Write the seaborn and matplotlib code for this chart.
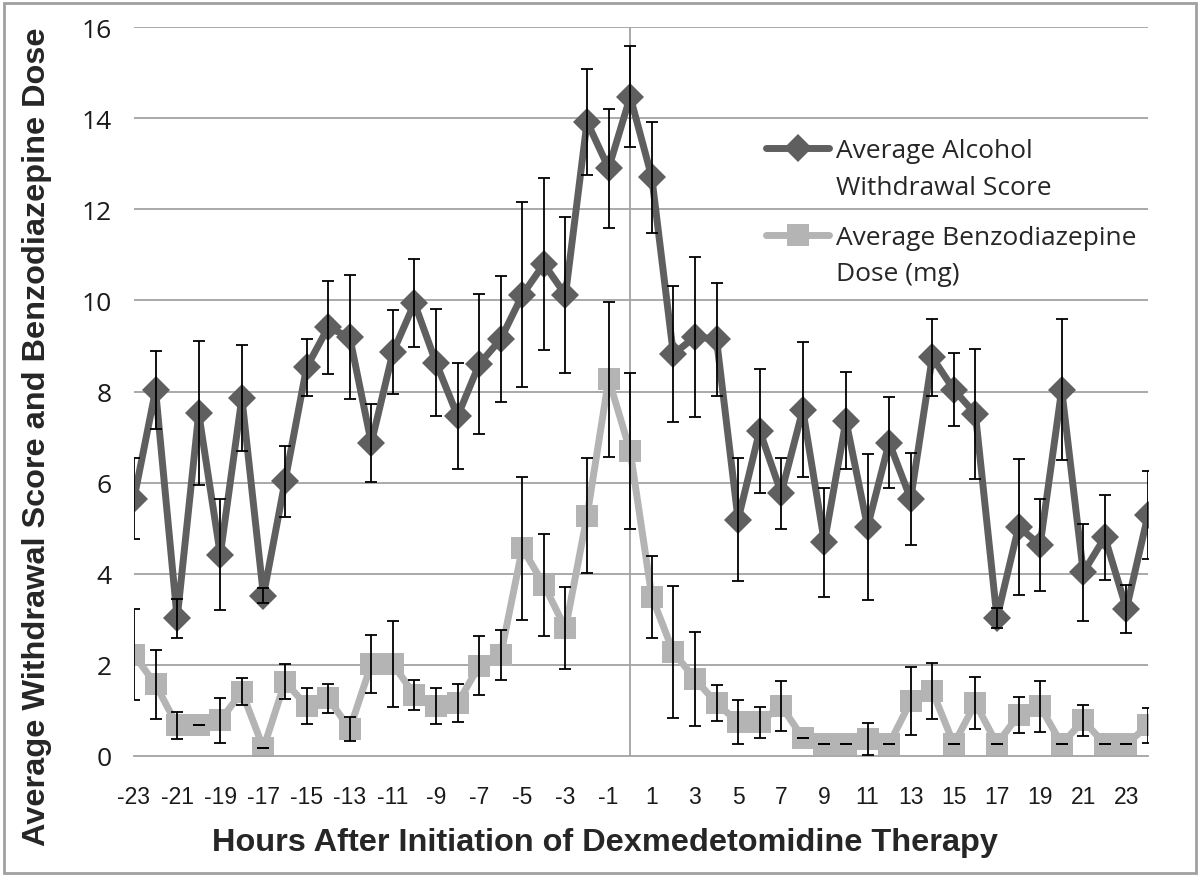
"""
Alcohol withdrawal score and benzodiazepine dose around dexmedetomidine start
"""

import matplotlib.pyplot as plt
import matplotlib.patches as patches
from matplotlib.legend_handler import HandlerLine2D
import seaborn as sns
import pandas as pd

# hours relative to start of dexmedetomidine
hours = list(range(-23, 25))

# average alcohol withdrawal score and its error (half-width)
aws_mean = [5.65, 8.03, 3.02, 7.52, 4.42, 7.86, 3.52, 6.03, 8.53, 9.41, 9.19, 6.87,
            8.86, 9.94, 8.63, 7.46, 8.60, 9.15, 10.12, 10.80, 10.12, 13.92, 12.90, 14.47,
            12.70, 8.82, 9.20, 9.15, 5.19, 7.14, 5.77, 7.60, 4.69, 7.36, 5.03, 6.88,
            5.64, 8.75, 8.04, 7.51, 3.03, 5.03, 4.63, 8.04, 4.03, 4.80, 3.23, 5.29]
aws_err = [0.88, 0.85, 0.42, 1.58, 1.21, 1.16, 0.16, 0.78, 0.62, 1.02, 1.36, 0.86,
           0.92, 0.97, 1.17, 1.16, 1.53, 1.38, 2.03, 1.89, 1.72, 1.16, 1.31, 1.11,
           1.22, 1.50, 1.75, 1.24, 1.35, 1.36, 0.78, 1.48, 1.20, 1.06, 1.60, 1.00,
           1.00, 0.85, 0.80, 1.42, 0.22, 1.49, 1.01, 1.55, 1.07, 0.93, 0.53, 0.97]

# average benzodiazepine dose (mg) and its error (half-width)
bzd_mean = [2.22, 1.57, 0.67, 0.67, 0.78, 1.41, 0.17, 1.63, 1.10, 1.27, 0.59, 2.02,
            2.02, 1.34, 1.10, 1.16, 1.98, 2.22, 4.56, 3.76, 2.80, 5.27, 8.27, 6.69,
            3.50, 2.28, 1.69, 1.16, 0.74, 0.74, 1.10, 0.40, 0.26, 0.26, 0.37, 0.26,
            1.20, 1.43, 0.26, 1.16, 0.26, 0.90, 1.09, 0.26, 0.78, 0.26, 0.26, 0.67]
bzd_err = [1.00, 0.76, 0.30, 0.00, 0.49, 0.30, 0.00, 0.38, 0.40, 0.32, 0.26, 0.64,
           0.94, 0.33, 0.39, 0.42, 0.65, 0.55, 1.57, 1.12, 0.90, 1.26, 1.70, 1.71,
           0.90, 1.45, 1.03, 0.39, 0.48, 0.34, 0.55, 0.00, 0.00, 0.00, 0.35, 0.00,
           0.75, 0.61, 0.00, 0.57, 0.00, 0.40, 0.56, 0.00, 0.34, 0.00, 0.00, 0.38]

label_aws = "Average Alcohol\nWithdrawal Score"
label_bzd = "Average Benzodiazepine\nDose (mg)"

df = pd.DataFrame({"hour": hours, "aws": aws_mean, "bzd": bzd_mean})

sns.set_style("white")
plt.rcParams['font.family'] = ['Open Sans', 'DejaVu Sans']

dark = "#5f5f5f"
light = "#b4b4b4"
grid = "#a3a3a3"
narrow = ['Liberation Sans', 'DejaVu Sans']

LEG_FS = 19
LEG_LS = 1.6


class TopLineHandler(HandlerLine2D):
    """ puts the legend sample next to the first text line, like Excel does """
    def create_artists(self, legend, orig_handle, xdescent, ydescent, width, height,
                       fontsize, trans):
        artists = super().create_artists(legend, orig_handle, xdescent, ydescent,
                                         width, height, fontsize, trans)
        shift = 0.5 * LEG_LS * fontsize
        for a in artists:
            a.set_ydata([y + shift for y in a.get_ydata()])
        return artists


fig = plt.figure(figsize=(12, 8.78), dpi=100)
ax = fig.add_axes([134 / 1200, 1 - 757 / 878, (1148 - 134) / 1200, (757 - 28) / 878])

# horizontal gridlines and the vertical axis line at hour 0
for g in range(2, 17, 2):
    ax.axhline(g, color=grid, lw=1.3, zorder=0)
ax.plot([0, 0], [0, 16], color=grid, lw=1.3, zorder=0)

sns.lineplot(data=df, x="hour", y="aws", ax=ax, color=dark, lw=5, marker="D",
             markersize=14, markeredgewidth=0, label=label_aws, zorder=3)
sns.lineplot(data=df, x="hour", y="bzd", ax=ax, color=light, lw=5, marker="s",
             markersize=16.5, markeredgewidth=0, label=label_bzd, zorder=2)

# error bars
ax.errorbar(hours, aws_mean, yerr=aws_err, fmt="none", ecolor="black",
            elinewidth=1.3, capsize=4.5, capthick=1.3, zorder=4)
ax.errorbar(hours, bzd_mean, yerr=bzd_err, fmt="none", ecolor="black",
            elinewidth=1.3, capsize=4.5, capthick=1.3, zorder=4)

ax.set_xlim(-23, 24)
ax.set_ylim(0, 16)
ax.set_yticks(range(0, 17, 2))
ax.set_xticks(hours)
ax.set_xticklabels([str(h) if h % 2 else "" for h in hours], family=narrow, fontsize=16.5)
ax.tick_params(axis="y", length=0, pad=16, labelsize=19, colors="#1a1a1a")
ax.tick_params(axis="x", length=7, width=1.3, color=grid, pad=14, labelcolor="#1a1a1a")
ax.set_xlabel("")
ax.set_ylabel("")

for s in ["left", "right", "top"]:
    ax.spines[s].set_visible(False)
ax.spines["bottom"].set_color(grid)
ax.spines["bottom"].set_linewidth(1.3)

handles, labels = ax.get_legend_handles_labels()
leg = ax.legend(handles, labels, loc="upper left", bbox_to_anchor=(0.6, 0.88),
                frameon=False, fontsize=LEG_FS, handlelength=2.4, handletextpad=0.25,
                labelspacing=0.95,
                handler_map={h: TopLineHandler() for h in handles})
for t in leg.get_texts():
    t.set_linespacing(LEG_LS)

fig.text(0.504, 0.04, "Hours After Initiation of Dexmedetomidine Therapy",
         ha="center", va="center", fontsize=23.4, fontweight="bold", family=narrow)
fig.text(0.031, 0.502, "Average Withdrawal Score and Benzodiazepine Dose",
         ha="center", va="center", rotation=90, fontsize=23.4, fontweight="bold", family=narrow)

# thin grey frame round the whole picture
fig.patches.append(patches.Rectangle((0.003, 0.004), 0.994, 0.992, transform=fig.transFigure,
                                     fill=False, edgecolor="#a0a0a0", lw=2))

fig.savefig("out.png", dpi=100)
